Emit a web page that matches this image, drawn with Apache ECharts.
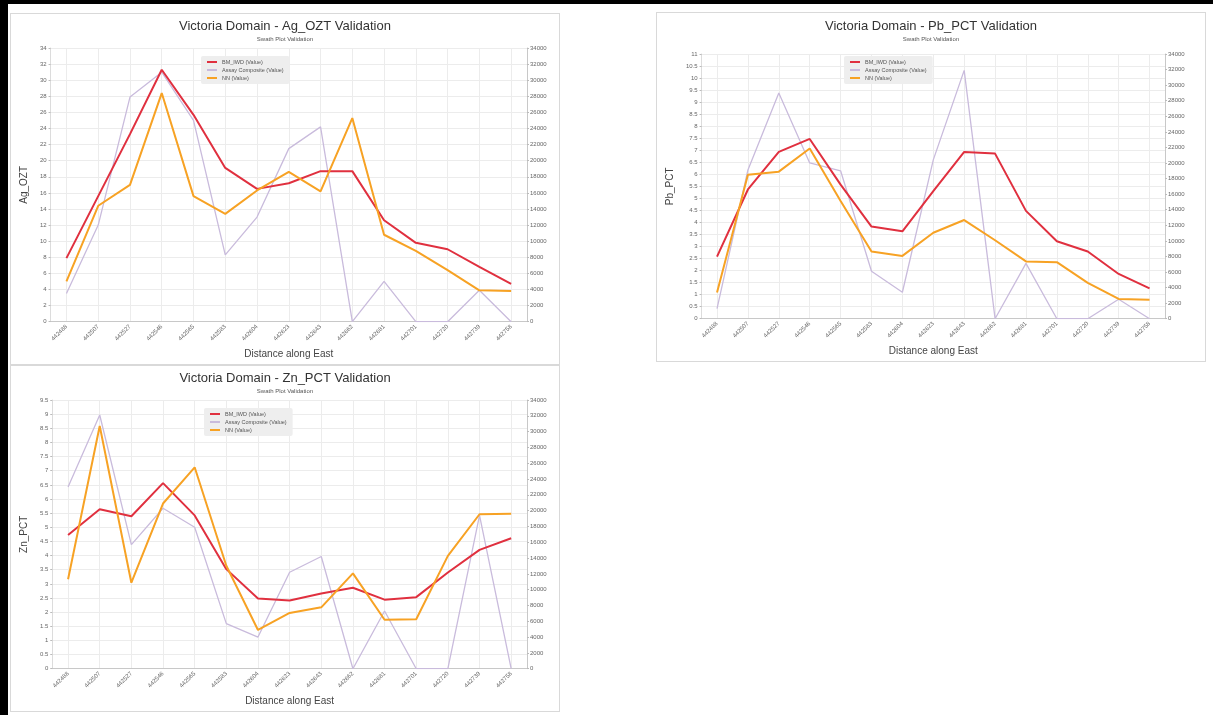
<!DOCTYPE html>
<html><head><meta charset="utf-8">
<script src="https://cdn.jsdelivr.net/npm/echarts@6/dist/echarts.min.js"></script>
<style>
html,body{margin:0;padding:0;background:#fff;width:1213px;height:715px;overflow:hidden;position:relative;}
.frameL{position:absolute;left:0;top:0;width:8px;height:715px;background:#000}
.frameT{position:absolute;left:0;top:0;width:1213px;height:4px;background:#000}
.panel{position:absolute;border:1px solid #d9d9d9;box-sizing:border-box;background:#fff}
</style></head>
<body>
<div class="frameT"></div>
<div class="frameL"></div>
<div id="c1" class="panel" style="left:10px;top:13px;width:550px;height:352px"></div>
<div id="c2" class="panel" style="left:656px;top:12px;width:550px;height:350px"></div>
<div id="c3" class="panel" style="left:10px;top:365px;width:550px;height:347px"></div>
<script>
const categories = ['442488','442507','442527','442546','442565','442583','442604','442623','442643','442662','442681','442701','442720','442739','442758'];
const seriesNames = ['BM_IWD (Value)','Assay Composite (Value)','NN (Value)'];

const agBM    = [7.9, 15.6, 23.3, 31.3, 25.7, 19.1, 16.5, 17.2, 18.7, 18.7, 12.6, 9.8, 9.0, 6.8, 4.7];
const agAssay = [3500, 12000, 27900, 31000, 25000, 8300, 13000, 21500, 24200, 0, 5000, 0, 0, 3900, 0];
const agNN    = [5.0, 14.4, 17.0, 28.4, 15.6, 13.4, 16.3, 18.6, 16.2, 25.3, 10.8, 8.8, 6.4, 3.9, 3.8];

const pbBM    = [2.58, 5.37, 6.93, 7.47, 5.57, 3.83, 3.63, 5.30, 6.93, 6.86, 4.48, 3.22, 2.79, 1.86, 1.26];
const pbAssay = [1300, 19100, 29000, 20000, 19000, 6100, 3400, 20400, 31900, 0, 7100, 0, 0, 2500, 0];
const pbNN    = [1.09, 5.98, 6.11, 7.07, 4.89, 2.79, 2.61, 3.57, 4.10, 3.26, 2.38, 2.35, 1.49, 0.82, 0.79];

const znBM    = [4.73, 5.64, 5.39, 6.56, 5.42, 3.52, 2.48, 2.41, 2.66, 2.86, 2.44, 2.53, 3.40, 4.20, 4.61];
const znAssay = [23000, 32100, 15700, 20300, 17900, 5700, 4000, 12200, 14200, 0, 7300, 0, 0, 19400, 0];
const znNN    = [3.16, 8.58, 3.04, 5.84, 7.12, 3.64, 1.37, 1.97, 2.17, 3.37, 1.73, 1.75, 3.99, 5.46, 5.48];

const COLORS = {bm:'#e0303f', assay:'#c9bbdc', nn:'#f7a224'};
const FONT = '"Liberation Sans", Arial, sans-serif';

function makeOption(cfg){
  return {
    animation:false,
    backgroundColor:'#ffffff',
    textStyle:{fontFamily:FONT},
    title:{
      text:cfg.title, subtext:'Swath Plot Validation', left:'center', top:cfg.titleTop, itemGap:3,
      textStyle:{fontFamily:FONT, fontSize:13, fontWeight:'normal', color:'#333'},
      subtextStyle:{fontFamily:FONT, fontSize:6, color:'#555'}
    },
    legend:{
      orient:'vertical', left:cfg.legendLeft, top:cfg.legendTop,
      data:seriesNames, itemWidth:10, itemHeight:2, itemGap:2,
      backgroundColor:'#eeeeee', padding:[3,6,3,6], borderRadius:2,
      icon:'rect',
      textStyle:{fontFamily:FONT, fontSize:5.5, color:'#555', padding:[0,0,0,0]}
    },
    grid:{left:cfg.grid[0], right:cfg.grid[1], top:cfg.grid[2], bottom:cfg.grid[3], containLabel:false},
    xAxis:{
      type:'category', data:categories, boundaryGap:true,
      name:'Distance along East', nameLocation:'middle', nameGap:cfg.xNameGap,
      nameTextStyle:{fontFamily:FONT, fontSize:10, color:'#444'},
      axisLine:{lineStyle:{color:'#c8c8c8'}},
      axisTick:{alignWithLabel:true, length:3, lineStyle:{color:'#bbb'}},
      axisLabel:{rotate:45, interval:0, fontSize:6, color:'#666', margin:4},
      splitLine:{show:true, alignWithLabel:true, lineStyle:{color:'#ececec', width:1}}
    },
    yAxis:[
      {
        type:'value', min:0, max:cfg.leftMax, interval:cfg.leftInterval, position:'left',
        name:cfg.yName, nameLocation:'middle', nameGap:cfg.yNameGap,
        nameTextStyle:{fontFamily:FONT, fontSize:10, color:'#444'},
        axisLine:{show:true, lineStyle:{color:'#dcdcdc'}},
        axisTick:{show:true, length:2, lineStyle:{color:'#bbb'}},
        axisLabel:{fontSize:6, color:'#666', margin:4, formatter:v=>String(v)},
        splitLine:{show:true, lineStyle:{color:'#ececec'}}
      },
      {
        type:'value', min:0, max:34000, interval:2000, position:'right',
        axisLine:{show:true, lineStyle:{color:'#c8c8c8'}},
        axisTick:{show:true, length:2, lineStyle:{color:'#bbb'}},
        axisLabel:{fontSize:6, color:'#666', margin:3, formatter:v=>String(v)},
        splitLine:{show:false}
      }
    ],
    series:[
      {name:seriesNames[1], type:'line', yAxisIndex:1, data:cfg.assay, symbol:'none', z:2,
       lineStyle:{color:COLORS.assay, width:1.3}, itemStyle:{color:COLORS.assay}},
      {name:seriesNames[0], type:'line', yAxisIndex:0, data:cfg.bm, symbol:'none', z:3,
       lineStyle:{color:COLORS.bm, width:2}, itemStyle:{color:COLORS.bm}},
      {name:seriesNames[2], type:'line', yAxisIndex:0, data:cfg.nn, symbol:'none', z:4,
       lineStyle:{color:COLORS.nn, width:2}, itemStyle:{color:COLORS.nn}}
    ]
  };
}

const c1 = echarts.init(document.getElementById('c1'), null, {renderer:'canvas'});
c1.setOption(makeOption({
  title:'Victoria Domain - Ag_OZT Validation', titleTop:1, yName:'Ag_OZT',
  leftMax:34, leftInterval:2, grid:[36,32,34,42], xNameGap:25, yNameGap:18,
  legendLeft:190, legendTop:42, bm:agBM, assay:agAssay, nn:agNN
}));

const c2 = echarts.init(document.getElementById('c2'), null, {renderer:'canvas'});
c2.setOption(makeOption({
  title:'Victoria Domain - Pb_PCT Validation', titleTop:2, yName:'Pb_PCT',
  leftMax:11, leftInterval:0.5, grid:[35,40,41,39], xNameGap:25, yNameGap:18,
  legendLeft:187, legendTop:43, bm:pbBM, assay:pbAssay, nn:pbNN
}));

const c3 = echarts.init(document.getElementById('c3'), null, {renderer:'canvas'});
c3.setOption(makeOption({
  title:'Victoria Domain - Zn_PCT Validation', titleTop:1, yName:'Zn_PCT',
  leftMax:9.5, leftInterval:0.5, grid:[36,32,34,36], xNameGap:25, yNameGap:18,
  legendLeft:193, legendTop:42, bm:znBM, assay:znAssay, nn:znNN
}));
</script>
</body></html>
